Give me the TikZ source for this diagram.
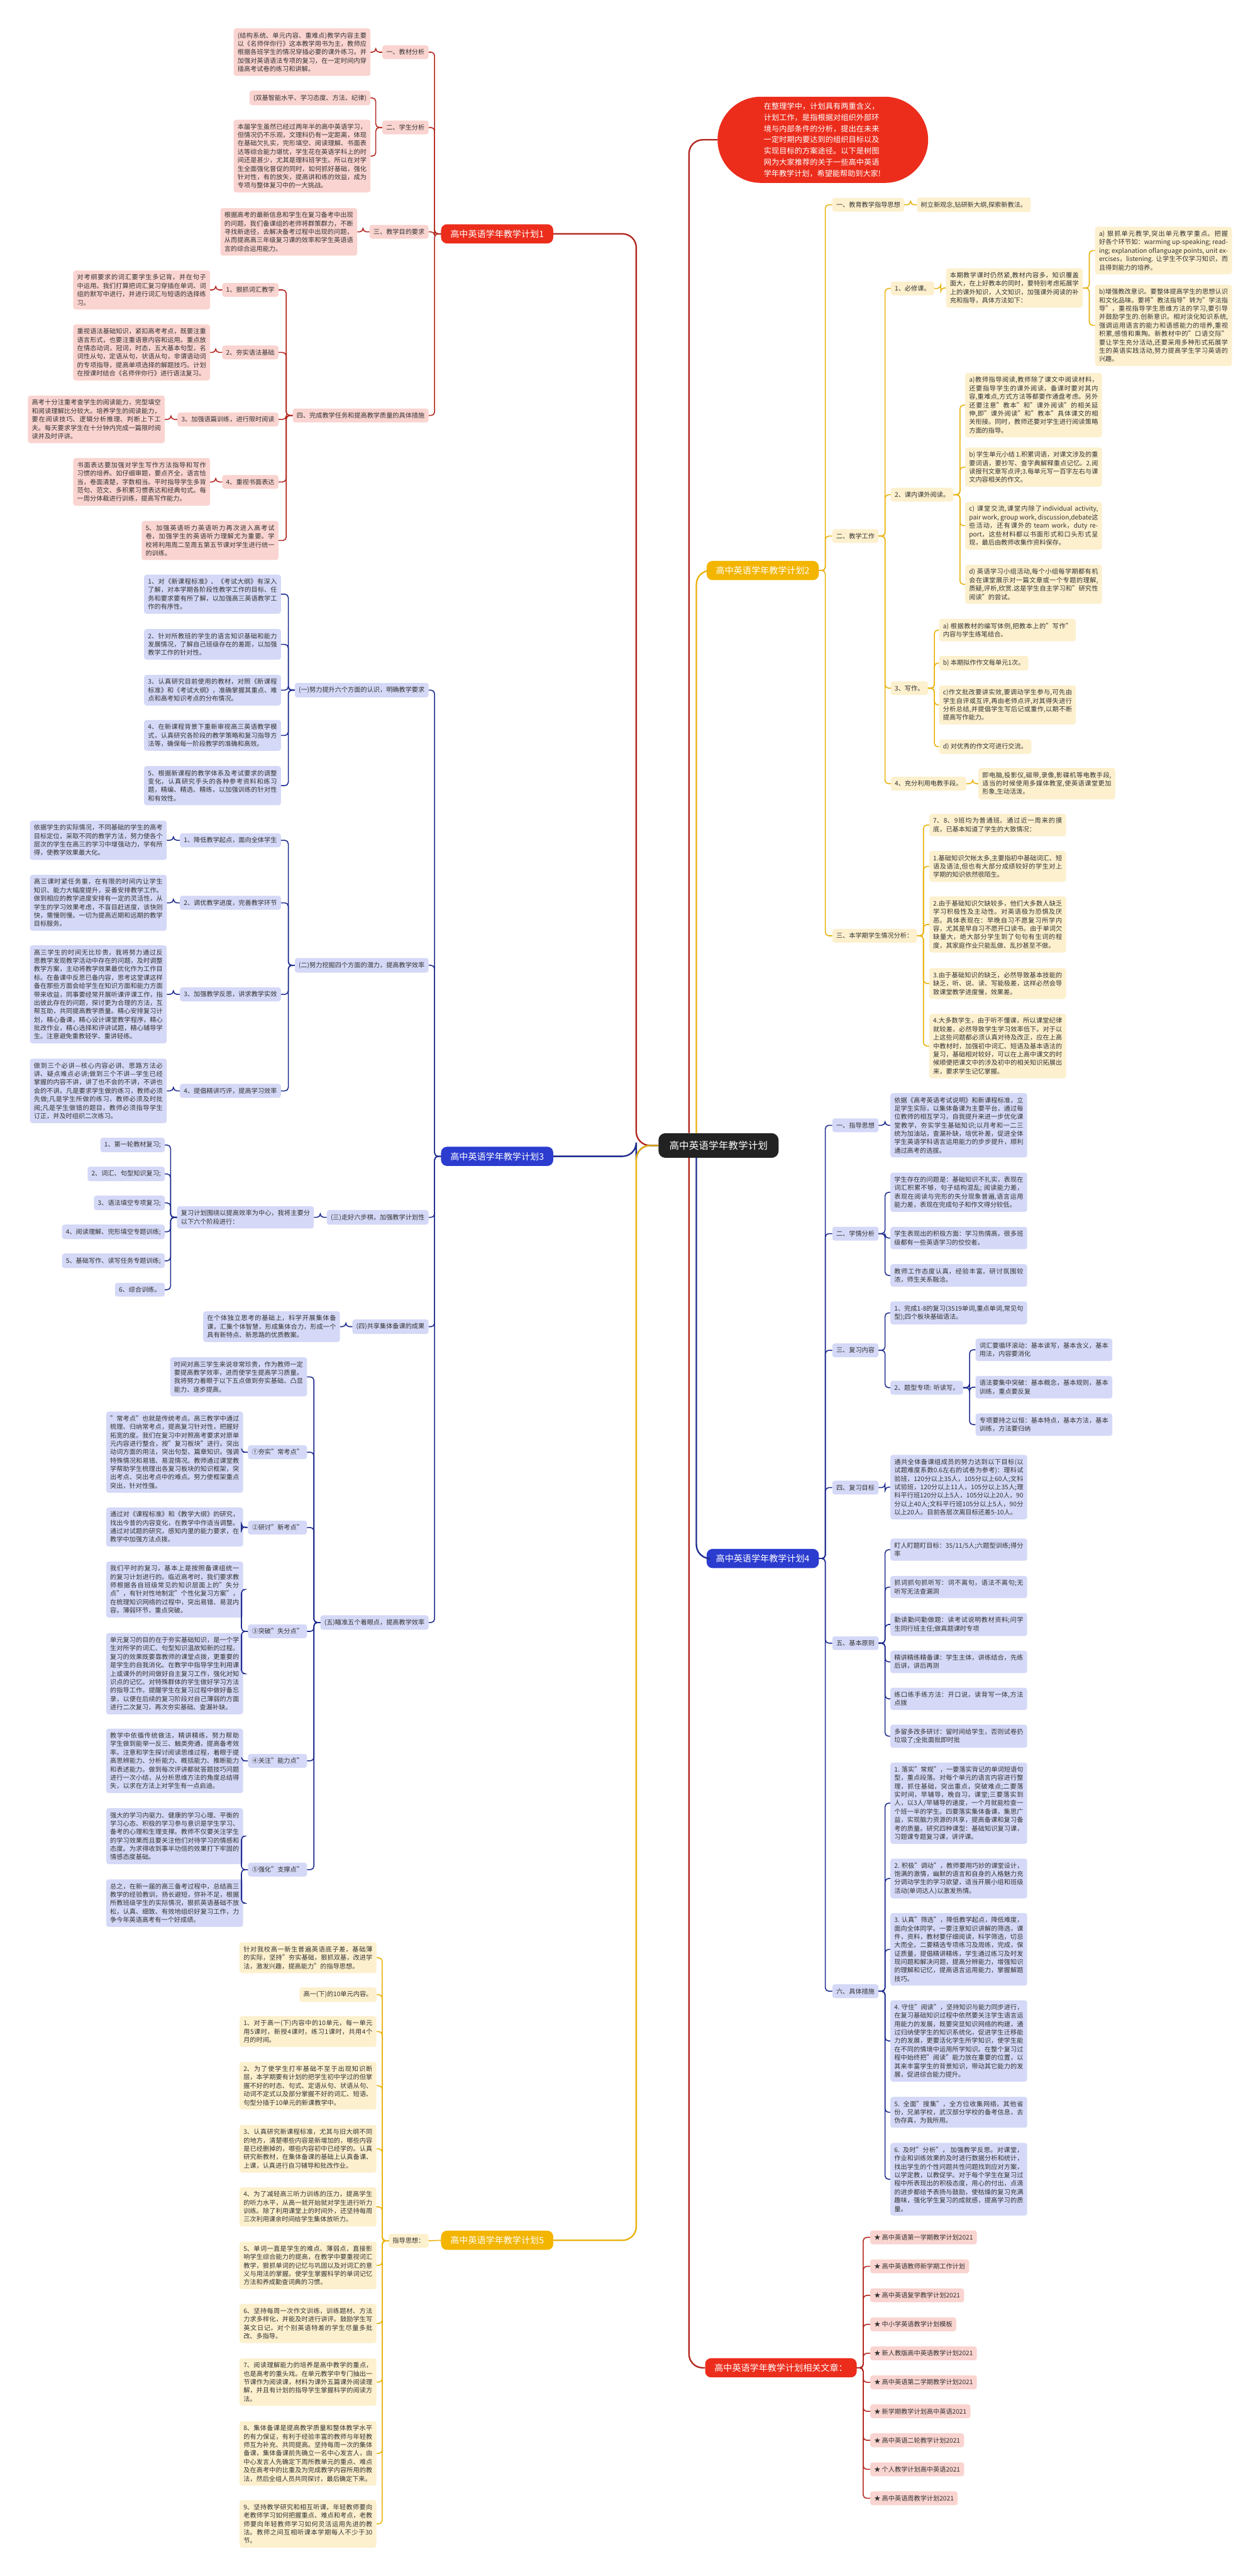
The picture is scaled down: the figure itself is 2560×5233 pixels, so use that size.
\documentclass[tikz,border=0pt]{standalone}
\usepackage{fontspec}
\setmainfont{Noto Sans CJK SC}
\XeTeXlinebreaklocale "zh"
\XeTeXlinebreakskip=0pt plus 1pt
\usetikzlibrary{positioning}
\definecolor{ink}{HTML}{333333}
\definecolor{rootfill}{HTML}{222222}
\definecolor{redmain}{HTML}{EC2D1C}
\definecolor{redfill}{HTML}{FAD4D0}
\definecolor{redline}{HTML}{B3261E}
\definecolor{bluemain}{HTML}{2B3CCF}
\definecolor{bluefill}{HTML}{D5D9F7}
\definecolor{blueline}{HTML}{1E2C8E}
\definecolor{goldmain}{HTML}{F3B500}
\definecolor{goldfill}{HTML}{FDF0CE}
\definecolor{goldline}{HTML}{E9B20C}
\tikzset{
  leaf/.style={rounded corners=5pt, inner xsep=8pt, inner ysep=8pt, text=ink},
  para/.style={text width=262pt, align=justify},
  redleaf/.style={leaf, fill=redfill},
  blueleaf/.style={leaf, fill=bluefill},
  goldleaf/.style={leaf, fill=goldfill},
  hub/.style={rounded corners=12pt, inner xsep=19pt, minimum height=39pt, text=white,
    font=\fontsize{18}{22}\selectfont},
  link/.style={line width=2pt, rounded corners=7pt},
  redlink/.style={link, draw=redline},
  bluelink/.style={link, draw=blueline},
  goldlink/.style={link, draw=goldline},
  trunk/.style={line width=3pt, rounded corners=28pt}
}
\begin{document}
\begin{tikzpicture}[x=1pt, y=-1pt, font=\fontsize{13}{17.1}\selectfont]
  \useasboundingbox (0,0) rectangle (2560,5233);
  \fill[white] (0,0) rectangle (2560,5233);

  % Centre and intro
  \node[fill=rootfill, text=white, rounded corners=14pt, inner xsep=22pt, minimum height=50pt,
    font=\fontsize{20}{24}\selectfont] (root) at (1460,2327) {高中英语学年教学计划};
  \node[fill=redmain, text=white, rounded corners=88pt, inner xsep=94pt, inner ysep=12pt,
    text width=240pt, font=\fontsize{15.5}{22.7}\selectfont] (blob) at (1672,284)
    {在整理学中，计划具有两重含义，计划工作，是指根据对组织外部环境与内部条件的分析，提出在未来一定时期内要达到的组织目标以及实现目标的方案途径。以下是树图网为大家推荐的关于一些高中英语学年教学计划，希望能帮助到大家!};

  % Left top: plan 1 (red)
  \node[hub, fill=redmain, anchor=west] (p1) at (896,475) {高中英语学年教学计划1};
  \node[redleaf, anchor=east] (r1) at (871,106) {一、教材分析};
  \node[redleaf, anchor=east] (r2) at (871,259) {二、学生分析};
  \node[redleaf, anchor=east] (r3) at (871,471) {三、教学目的要求};
  \node[redleaf, anchor=east] (r4) at (871,844) {四、完成教学任务和提高教学质量的具体措施};
  \node[redleaf, para, anchor=east] (r1a) at (753,106) {(结构系统、单元内容、重难点)教学内容主要以《名师伴你行》这本教学用书为主，教师应根据各班学生的情况穿插必要的课外练习。并加强对英语语法专项的复习，在一定时间内穿插高考试卷的练习和讲解。};
  \node[redleaf, anchor=east] (r2a) at (753,199) {(双基智能水平、学习态度、方法、纪律)};
  \node[redleaf, para, anchor=east] (r2b) at (753,317) {本届学生虽然已经过两年半的高中英语学习，但情况仍不乐观，文理科仍有一定距离，体现在基础欠扎实，完形填空、阅读理解、书面表达等综合能力堪忧，学生花在英语学科上的时间还是甚少，尤其是理科班学生。所以在对学生全面强化督促的同时，如何抓好基础，强化针对性，有的放矢，提高讲和练的效益，成为专项与整体复习中的一大挑战。};
  \node[redleaf, para, anchor=east] (r3a) at (726,471) {根据高考的最新信息和学生在复习备考中出现的问题，我们备课组的老师将群策群力，不断寻找新途径，去解决备考过程中出现的问题，从而提高高三年级复习课的效率和学生英语语言的综合运用能力。};
  \node[redleaf, anchor=east] (r4a) at (566,589) {1、狠抓词汇教学};
  \node[redleaf, anchor=east] (r4b) at (566,716) {2、夯实语法基础};
  \node[redleaf, anchor=east] (r4c) at (566,852) {3、加强语篇训练，进行限时阅读};
  \node[redleaf, anchor=east] (r4d) at (566,979) {4、重视书面表达};
  \node[redleaf, para, anchor=east] (r4e) at (566,1098) {5、加强英语听力英语听力再次进入高考试卷，加强学生的英语听力理解尤为重要。学校将利用周二至周五第五节课对学生进行统一的训练。};
  \node[redleaf, para, anchor=east] (r4a1) at (427,589) {对考纲要求的词汇要学生多记背，并在句子中运用。我们打算把词汇复习穿插在单词、词组的默写中进行，并进行词汇与短语的选择练习。};
  \node[redleaf, para, anchor=east] (r4b1) at (427,716) {重视语法基础知识，紧扣高考考点，既要注重语言形式，也要注重语意内容和运用。重点放在情态动词，冠词，时态，五大基本句型，名词性从句，定语从句，状语从句，非谓语动词的专项指导，提高单项选择的解题技巧。计划在授课时结合《名师伴你行》进行语法复习。};
  \node[redleaf, para, anchor=east] (r4c1) at (335,852) {高考十分注重考查学生的阅读能力，完型填空和阅读理解比分较大。培养学生的阅读能力，要在阅读技巧、逻辑分析推理、判断上下工夫。每天要求学生在十分钟内完成一篇限时阅读并及时评讲。};
  \node[redleaf, para, anchor=east] (r4d1) at (427,979) {书面表达要加强对学生写作方法指导和写作习惯的培养。如仔细审题，要点齐全，语言恰当，卷面清楚，字数相当。平时指导学生多背范句、范文、多积累习惯表达和经典句式。每一周分体裁进行训练，提高写作能力。};
  \foreach \p/\c in {p1/r1,p1/r2,p1/r3,p1/r4,r1/r1a,r2/r2a,r2/r2b,r3/r3a,r4/r4a,r4/r4b,r4/r4c,r4/r4d,r4/r4e,r4a/r4a1,r4b/r4b1,r4c/r4c1,r4d/r4d1}
    \draw[redlink] (\p.west) -- ++(-13,0) |- (\c.east);

  % Left middle: plan 3 (blue)
  \node[hub, fill=bluemain, anchor=west] (p3) at (896,2349) {高中英语学年教学计划3};
  \node[blueleaf, anchor=east] (b1) at (871,1402) {(一)努力提升六个方面的认识，明确教学要求};
  \node[blueleaf, anchor=east] (b2) at (871,1961) {(二)努力挖掘四个方面的潜力，提高教学效率};
  \node[blueleaf, anchor=east] (b3) at (871,2473) {(三)走好六步棋，加强教学计划性};
  \node[blueleaf, anchor=east] (b4) at (871,2695) {(四)共享集体备课的成果};
  \node[blueleaf, anchor=east] (b5) at (871,3296) {(五)瞄准五个着眼点，提高教学效率};
  \foreach \k/\ypos/\body in {
    1/1207/{1、对《新课程标准》、《考试大纲》有深入了解，对本学期各阶段性教学工作的目标、任务和要求要有所了解，以加强高三英语教学工作的有序性。},
    2/1309/{2、针对所教班的学生的语言知识基础和能力发展情况，了解自己班级存在的差距，以加强教学工作的针对性。},
    3/1402/{3、认真研究目前使用的教材，对照《新课程标准》和《考试大纲》，准确掌握其重点、难点和高考知识考点的分布情况。},
    4/1494/{4、在新课程背景下重新审视高三英语教学模式，认真研究各阶段的教学策略和复习指导方法等，确保每一阶段教学的准确和高效。},
    5/1596/{5、根据新课程的教学体系及考试要求的调整变化，认真研究手头的各种参考资料和练习题，精编、精选、精练，以加强训练的针对性和有效性。}}
    \node[blueleaf, para, anchor=east] (b1\k) at (571,\ypos) {\body};
  \node[blueleaf, anchor=east] (b2a) at (571,1707) {1、降低教学起点，面向全体学生};
  \node[blueleaf, anchor=east] (b2b) at (571,1834) {2、调优教学进度，完善教学环节};
  \node[blueleaf, anchor=east] (b2c) at (571,2020) {3、加强教学反思，讲求教学实效};
  \node[blueleaf, anchor=east] (b2d) at (571,2216) {4、提倡精讲巧评，提高学习效率};
  \node[blueleaf, para, anchor=east] (b2a1) at (339,1707) {依据学生的实际情况，不同基础的学生的高考目标定位，采取不同的教学方法，努力使各个层次的学生在高三的学习中增强动力，学有所得，使教学效果最大化。};
  \node[blueleaf, para, anchor=east] (b2b1) at (339,1834) {高三课时紧任务重，在有限的时间内让学生知识、能力大幅度提升，妥善安排教学工作。做到相应的教学进度安排有一定的灵活性，从学生的学习效果考虑，不盲目赶进度，该快则快，需慢则慢。一切为提高近期和远期的教学目标服务。};
  \node[blueleaf, para, anchor=east] (b2c1) at (339,2020) {高三学生的时间无比珍贵，我将努力通过反思教学发现教学活动中存在的问题，及时调整教学方案，主动将教学效果最优化作为工作目标。在备课中反思已备内容，思考这堂课这样备在那些方面会给学生在知识方面和能力方面带来收益，同事要经常开展听课评课工作，指出彼此存在的问题，探讨更为合理的方法，互帮互助，共同提高教学质量。精心安排复习计划，精心备课，精心设计课堂教学程序，精心批改作业，精心选择和评讲试题，精心辅导学生。注意避免重教轻学、重讲轻练。};
  \node[blueleaf, para, anchor=east] (b2d1) at (339,2216) {做到三个必讲—核心内容必讲、思路方法必讲、疑点难点必讲;做到三个不讲—学生已经掌握的内容不讲，讲了也不会的不讲，不讲也会的不讲。凡是要求学生做的练习，教师必须先做;凡是学生所做的练习，教师必须及时批阅;凡是学生做错的题目，教师必须指导学生订正，并及时组织二次练习。};
  \node[blueleaf, para, anchor=east] (b3a) at (638,2473) {复习计划围绕以提高效率为中心，我将主要分以下六个阶段进行：};
  \foreach \k/\body in {1/{1、第一轮教材复习;},2/{2、词汇、句型知识复习;},3/{3、语法填空专项复习;},
    4/{4、阅读理解、完形填空专题训练;},5/{5、基础写作、读写任务专题训练;},6/{6、综合训练。}}
    \node[blueleaf, anchor=east] (b3a\k) at (335,{2326+58.8*(\k-1)}) {\body};
  \node[blueleaf, para, anchor=east] (b4a) at (691,2695) {在个体独立思考的基础上，科学开展集体备课，汇集个体智慧，形成集体合力，形成一个具有新特点、新思路的优质教案。};
  \node[blueleaf, para, anchor=east] (b5a) at (624,2797) {时间对高三学生来说非常珍贵，作为教师一定要提高教学效率，进而使学生提高学习质量。我将努力着眼于以下五点做到夯实基础、凸显能力、逐步提高。};
  \node[blueleaf, anchor=east] (b5b) at (624,2950) {①夯实"常考点"};
  \node[blueleaf, anchor=east] (b5c) at (624,3103) {②研讨"新考点"};
  \node[blueleaf, anchor=east] (b5d) at (624,3314) {③突破"失分点"};
  \node[blueleaf, anchor=east] (b5e) at (624,3577) {④关注"能力点"};
  \node[blueleaf, anchor=east] (b5f) at (624,3798) {⑤强化"支撑点"};
  \node[blueleaf, para, anchor=east] (b5b1) at (494,2950) {"常考点"也就是传统考点。高三教学中通过梳理、归纳常考点，提高复习针对性，把握好拓宽的度。我们在复习中对照高考要求对原单元内容进行整合，按"复习板块"进行。突出动词方面的用法，突出句型、篇章知识。强调特殊情况和易错、易混情况。教师通过课堂教学帮助学生梳理出各复习板块的知识框架，突出考点、突出考点中的难点。努力使框架重点突出，针对性强。};
  \node[blueleaf, para, anchor=east] (b5c1) at (494,3102) {通过对《课程标准》和《教学大纲》的研究，找出今昔的内容变化，在教学中作适当调整。通过对试题的研究，感知内里的能力要求，在教学中加强方法点拨。};
  \node[blueleaf, para, anchor=east] (b5d1) at (494,3229) {我们平时的复习，基本上是按照备课组统一的复习计划进行的。临近高考时，我们要求教师根据各自班级常见的知识层面上的"失分点"，有针对性地制定"个性化复习方案"，在梳理知识网络的过程中，突出易错、易混内容。薄弱环节，重点突破。};
  \node[blueleaf, para, anchor=east] (b5d2) at (494,3400) {单元复习的目的在于夯实基础知识，是一个学生对所学的词汇、句型知识温故知新的过程。复习的效果既要靠教师的课堂点拨，更重要的是学生的自我消化。在教学中指导学生利用课上或课外的时间做好自主复习工作，强化对知识点的记忆。对特殊群体的学生做好学习方法的指导工作。提醒学生在复习过程中做好备忘录，以便在后续的复习阶段对自己薄弱的方面进行二次复习，再次夯实基础、查漏补缺。};
  \node[blueleaf, para, anchor=east] (b5e1) at (494,3577) {教学中依循传统做法，精讲精练，努力帮助学生做到能举一反三、触类旁通，提高备考效率。注意和学生探讨阅读思维过程，着眼于提高思辨能力、分析能力、概括能力、推断能力和表述能力。做到每次评讲都就答题技巧问题进行一次小结，从分析思维方法的角度总结得失，以求在方法上对学生有一点启迪。};
  \node[blueleaf, para, anchor=east] (b5f1) at (494,3730) {强大的学习内驱力、健康的学习心理、平衡的学习心态、积极的学习参与意识是学生学习、备考的心理和生理支撑。教师不仅要关注学生的学习效果而且要关注他们对待学习的情感和态度。为求得收到事半功倍的效果打下牢固的情感态度基础。};
  \node[blueleaf, para, anchor=east] (b5f2) at (494,3866) {总之，在新一届的高三备考过程中，总结高三教学的经验教训，扬长避短，弥补不足，根据所教班级学生的实际情况，狠抓英语基础不放松，认真、细致、有效地组织好复习工作，力争今年英语高考有一个好成绩。};
  \foreach \p/\c in {p3/b1,p3/b2,p3/b3,p3/b4,p3/b5,b1/b11,b1/b12,b1/b13,b1/b14,b1/b15,
    b2/b2a,b2/b2b,b2/b2c,b2/b2d,b2a/b2a1,b2b/b2b1,b2c/b2c1,b2d/b2d1,b3/b3a,
    b3a/b3a1,b3a/b3a2,b3a/b3a3,b3a/b3a4,b3a/b3a5,b3a/b3a6,b4/b4a,
    b5/b5a,b5/b5b,b5/b5c,b5/b5d,b5/b5e,b5/b5f,b5b/b5b1,b5c/b5c1,b5d/b5d1,b5d/b5d2,b5e/b5e1,b5f/b5f1,b5f/b5f2}
    \draw[bluelink] (\p.west) -- ++(-13,0) |- (\c.east);

  % Left bottom: plan 5 (gold)
  \node[hub, fill=goldmain, anchor=west] (p5) at (896,4551) {高中英语学年教学计划5};
  \node[goldleaf, anchor=east] (y0) at (871,4552) {指导思想：};
  \node[goldleaf, anchor=east] (y2) at (765,4052) {高一(下)的10单元内容。};
  \foreach \k/\ypos/\body in {
    1/3977/{针对我校高一新生普遍英语底子差，基础薄的实际，坚持"夯实基础，狠抓双基，改进学法，激发兴趣，提高能力"的指导思想。},
    3/4127/{1、对于高一(下)内容中的10单元，每一单元用5课时，新授4课时，练习1课时，共用4个月的时间。},
    4/4237/{2、为了使学生打牢基础不至于出现知识断层，本学期要有计划的把学生初中学过的但掌握不好的时态、句式、定语从句、状语从句、动词不定式以及部分掌握不好的词汇、短语、句型分插于10单元的新课教学中。},
    5/4365/{3、认真研究新课程标准，尤其与旧大纲不同的地方，清楚哪些内容是新增加的，哪些内容是已经删掉的，哪些内容初中已经学的。认真研究新教材，在集体备课的基础上认真备课、上课，认真进行自习辅导和批改作业。},
    6/4483/{4、为了减轻高三听力训练的压力，提高学生的听力水平，从高一就开始就对学生进行听力训练。除了利用课堂上的时间外，还坚持每周三次利用课余时间给学生集体放听力。},
    7/4602/{5、单词一直是学生的难点、薄弱点，直接影响学生综合能力的提高，在教学中要重视词汇教学，狠抓单词的记忆与巩固以及对词汇的意义与用法的掌握。使学生掌握科学的单词记忆方法和养成勤查词典的习惯。},
    8/4720/{6、坚持每周一次作文训练，训练题材、方法力求多样化，并能及时进行讲评。鼓励学生写英文日记，对个别英语特差的学生尽量多批改、多指导。},
    9/4839/{7、阅读理解能力的培养是高中教学的重点，也是高考的重头戏。在单元教学中专门抽出一节课作为阅读课，材料为课外五篇课外阅读理解，并且有计划的指导学生掌握科学的阅读方法。},
    10/4984/{8、集体备课是提高教学质量和整体教学水平的有力保证，有利于经验丰富的教师与年轻教师互为补充、共同提高。坚持每周一次的集体备课，集体备课前先确立一名中心发言人，由中心发言人先确定下周所教单元的重点、难点及在高考中的比重及为完成教学内容所用的教法，然后全组人员共同探讨，最后确定下来。},
    11/5127/{9、坚持教学研究和相互听课，年轻教师要向老教师学习如何把握重点、难点和考点，老教师要向年轻教师学习如何灵活运用先进的教法。教师之间互相听课本学期每人不少于30节。}}
    \node[goldleaf, para, anchor=east] (y\k) at (765,\ypos) {\body};
  \draw[goldlink] (p5.west) -- (y0.east);
  \foreach \k in {1,...,11}
    \draw[goldlink] (y0.west) -- ++(-13,0) |- (y\k.east);

  % Right top: plan 2 (gold)
  \node[hub, fill=goldmain, anchor=east] (p2) at (1664,1159) {高中英语学年教学计划2};
  \node[goldleaf, anchor=west] (g1) at (1691,416) {一、教育教学指导思想};
  \node[goldleaf, anchor=west] (g2) at (1691,1089) {二、教学工作};
  \node[goldleaf, anchor=west] (g3) at (1691,1901) {三、本学期学生情况分析：};
  \node[goldleaf, anchor=west] (g1a) at (1863,416) {树立新观念,钻研新大纲,探索新教法。};
  \node[goldleaf, anchor=west] (g2a) at (1810,586) {1、必修课。};
  \node[goldleaf, anchor=west] (g2b) at (1810,1005) {2、课内课外阅读。};
  \node[goldleaf, anchor=west] (g2c) at (1810,1398) {3、写作。};
  \node[goldleaf, anchor=west] (g2d) at (1810,1592) {4、充分利用电教手段。};
  \node[goldleaf, para, anchor=west] (g2a1) at (1922,585) {本期教学课时仍然紧,教材内容多，知识覆盖面大，在上好教本的同时，要特别考虑拓展学上的课外知识，人文知识，加强课外阅读的补充和指导，具体方法如下：};
  \node[goldleaf, para, anchor=west] (g2a2) at (2225,509) {a) 狠抓单元教学,突出单元教学重点。把握好各个环节如：warming up-speaking; reading; explanation oflanguage points, unit exercises，listening. 让学生不仅学习知识，而且得到能力的培养。};
  \node[goldleaf, para, anchor=west] (g2a3) at (2225,661) {b)增强教改意识。要整体提高学生的思想认识和文化品味。要将"教法指导"转为"学法指导"，重视指导学生思维方法的学习,要引导并鼓励学生的.创新意识。相对淡化知识系统,强调运用语言的能力和语感能力的培养,重视积累,感悟和熏陶。新教材中的"口语交际"要让学生充分活动,还要采用多种形式拓展学生的英语实践活动,努力提高学生学习英语的兴趣。};
  \node[goldleaf, para, anchor=west] (g2b1) at (1961,823) {a)教师指导阅读,教师除了课文中阅读材料，还要指导学生的课外阅读，备课时要对其内容,重难点,方式方法等都要作通盘考虑。另外还要注意"教本"和"课外阅读"的相关延伸,即"课外阅读"和"教本"具体课文的相关衔接。同时，教师还要对学生进行阅读策略方面的指导。};
  \node[goldleaf, para, anchor=west] (g2b2) at (1961,949) {b) 学生单元小结 1.积累词语，对课文涉及的重要词语，要抄写、查字典解释重点记忆。2.阅读报刊文章写点评;3.每单元写一百字左右与课文内容相关的作文。};
  \node[goldleaf, para, anchor=west] (g2b3) at (1961,1068) {c) 课堂交流,课堂内除了individual activity, pair work, group work, discussion,debate这些活动，还有课外的 team work，duty report，这些材料都以书面形式和口头形式呈现，最后由教师收集作资料保存。};
  \node[goldleaf, para, anchor=west] (g2b4) at (1961,1187) {d) 英语学习小组活动,每个小组每学期都有机会在课堂展示对一篇文章或一个专题的理解,质疑,评析,欣赏.这是学生自主学习和"研究性阅读"的尝试。};
  \node[goldleaf, para, anchor=west] (g2c1) at (1908,1280) {a) 根据教材的编写体例,把教本上的"写作"内容与学生练笔结合。};
  \node[goldleaf, anchor=west] (g2c2) at (1908,1347) {b) 本期拟作作文每单元1次。};
  \node[goldleaf, para, anchor=west] (g2c3) at (1908,1432) {c)作文批改要讲实效,要调动学生参与,可先由学生自评或互评,再由老师点评,对其得失进行分析总结,并提倡学生写后记或重作,以期不断提高写作能力。};
  \node[goldleaf, anchor=west] (g2c4) at (1908,1517) {d) 对优秀的作文可进行交流。};
  \node[goldleaf, para, anchor=west] (g2d1) at (1988,1592) {即电脑,投影仪,磁带,录像,影碟机等电教手段,适当的时候使用多媒体教室,使英语课堂更加形象,生动活泼。};
  \node[goldleaf, para, anchor=west] (g31) at (1888,1676) {7、8、9班均为普通班。通过近一周来的摸底，已基本知道了学生的大致情况：};
  \node[goldleaf, para, anchor=west] (g32) at (1888,1760) {1.基础知识欠帐太多,主要指初中基础词汇、短语及语法,但也有大部分成绩较好的学生对上学期的知识依然很陌生。};
  \node[goldleaf, para, anchor=west] (g33) at (1888,1878) {2.由于基础知识欠缺较多，他们大多数人缺乏学习积极性及主动性。对英语极为恐惧及厌恶。具体表现在：早晚自习不愿复习所学内容，尤其是早自习不愿开口读书。由于单词欠缺量大，绝大部分学生到了句句有生词的程度，其家庭作业只能乱做、乱抄甚至不做。};
  \node[goldleaf, para, anchor=west] (g34) at (1888,1998) {3.由于基础知识的缺乏，必然导致基本技能的缺乏，听、说、读、写能极差，这样必然会导致课堂教学进度慢，效果差。};
  \node[goldleaf, para, anchor=west] (g35) at (1888,2125) {4.大多数学生，由于听不懂课，所以课堂纪律就较差，必然导致学生学习效率低下。对于以上这些问题都必须认真对待及改正，应在上高中教材时，加强初中词汇、短语及基本语法的复习，基础相对较好，可以在上高中课文的时候顺便把课文中的涉及初中的相关知识拓展出来，要求学生记忆掌握。};
  \foreach \p/\c in {p2/g1,p2/g2,p2/g3,g1/g1a,g2/g2a,g2/g2b,g2/g2c,g2/g2d,g2a/g2a1,g2a1/g2a2,g2a1/g2a3,
    g2b/g2b1,g2b/g2b2,g2b/g2b3,g2b/g2b4,g2c/g2c1,g2c/g2c2,g2c/g2c3,g2c/g2c4,g2d/g2d1,
    g3/g31,g3/g32,g3/g33,g3/g34,g3/g35}
    \draw[goldlink] (\p.east) -- ++(13,0) |- (\c.west);

  % Right middle: plan 4 (blue)
  \node[hub, fill=bluemain, anchor=east] (p4) at (1664,3166) {高中英语学年教学计划4};
  \node[blueleaf, anchor=west] (u1) at (1691,2286) {一、指导思想};
  \node[blueleaf, anchor=west] (u2) at (1691,2506) {二、学情分析};
  \node[blueleaf, anchor=west] (u3) at (1691,2743) {三、复习内容};
  \node[blueleaf, anchor=west] (u4) at (1691,3022) {四、复习目标};
  \node[blueleaf, anchor=west] (u5) at (1691,3338) {五、基本原则};
  \node[blueleaf, anchor=west] (u6) at (1691,4045) {六、具体措施};
  \node[blueleaf, para, anchor=west] (u1a) at (1809,2286) {依据《高考英语考试说明》和新课程标准，立足学生实际，以集体备课为主要平台，通过每位教师的相互学习，自我提升来进一步优化课堂教学，夯实学生基础知识;以月考和一二三统为加油站，查漏补缺，培优补差，促进全体学生英语学科语言运用能力的步步提升，顺利通过高考的选拔。};
  \node[blueleaf, para, anchor=west] (u2a) at (1809,2422) {学生存在的问题是：基础知识不扎实，表现在词汇积累不够，句子结构混乱; 阅读能力差，表现在阅读与完形的失分现象普遍,语言运用能力差，表现在完成句子和作文得分较低。};
  \node[blueleaf, para, anchor=west] (u2b) at (1809,2515) {学生表现出的积极方面：学习热情高，很多班级都有一些英语学习的佼佼者。};
  \node[blueleaf, para, anchor=west] (u2c) at (1809,2591) {教师工作态度认真，经验丰富，研讨氛围较浓，师生关系融洽。};
  \node[blueleaf, para, anchor=west] (u3a) at (1809,2667) {1、完成1-8的复习(3519单词,重点单词,常见句型);四个板块基础语法。};
  \node[blueleaf, anchor=west] (u3b) at (1809,2819) {2、题型专项: 听读写。};
  \node[blueleaf, para, anchor=west] (u3b1) at (1982,2742) {词汇要循环滚动：基本读写，基本含义，基本用法，内容要消化};
  \node[blueleaf, para, anchor=west] (u3b2) at (1982,2818) {语法要集中突破：基本概念，基本规则，基本训练，重点要反复};
  \node[blueleaf, para, anchor=west] (u3b3) at (1982,2894) {专项要持之以恒：基本特点，基本方法，基本训练，方法要归纳};
  \node[blueleaf, para, anchor=west] (u4a) at (1809,3021) {通共全体备课组成员的努力达到以下目标(以试题难度系数0.6左右的试卷为参考)：理科试验班，120分以上35人，105分以上60人;文科试验班，120分以上11人，105分以上35人;理科平行班120分以上5人，105分以上20人，90分以上40人;文科平行班105分以上5人，90分以上20人。目前各层次离目标还差5-10人。};
  \foreach \k/\ypos/\body in {
    1/3148/{盯人盯题盯目标：35/11/5人;六题型训练;得分率},
    2/3224/{抓词抓句抓听写：词不离句，语法不离句;无听写无法查漏洞},
    3/3300/{勤读勤问勤做题：读考试说明教材资料;问学生同行班主任;做真题课时专项},
    4/3376/{精讲精练精备课：学生主体，讲练结合，先练后讲，讲后再测},
    5/3451/{练口练手练方法：开口说，读背写一体,方法点拨},
    6/3527/{多留多改多研讨：留时间给学生，否则试卷扔垃圾了;全批面批即时批}}
    \node[blueleaf, para, anchor=west] (u5\k) at (1809,\ypos) {\body};
  \foreach \k/\ypos/\body in {
    1/3663/{1. 落实"常规"，一要落实背记的单词短语句型，重点段落。对每个单元的语言内容进行整理，抓住基础，突出重点，突破难点;二要落实时间，早辅导，晚自习，课堂;三要落实到人，以3人/早辅导的速度，一个月就能检查一个班一半的学生。四要落实集体备课，集思广益，实现脑力资源的共享，提高备课和复习备考的质量。研究四种课型：基础知识复习课，习题课专题复习课，讲评课。},
    2/3816/{2. 积极"调动"，教师要用巧妙的课堂设计，饱满的激情，幽默的语言和自身的人格魅力充分调动学生的学习欲望，适当开展小组和班级活动(单词达人)以激发热情。},
    3/3960/{3. 认真"筛选"，降低教学起点，降低难度，面向全体同学。一要注意知识讲解的筛选，课件，资料，教材要仔细阅读，科学筛选，切忌大而全。二要精选专项练习及周练，完成，保证质量，提倡精讲精练，学生通过练习及时发现问题和解决问题，提高分辨能力，增强知识的理解和记忆，提高语言运用能力，掌握解题技巧。},
    4/4146/{4. 守住"阅读"，坚持知识与能力同步进行，在复习基础知识过程中依然要关注学生语言运用能力的发展，既要突显知识网络的构建，通过归纳使学生的知识系统化，促进学生迁移能力的发展，更要活化学生所学知识，使学生能在不同的情境中运用所学知识。在整个复习过程中始终把"阅读"能力放在重要的位置，以其来丰富学生的背景知识，带动其它能力的发展，促进综合能力提升。},
    5/4291/{5. 全面"搜集"，全方位收集网络，其他省份，兄弟学校，武汉部分学校的备考信息，去伪存真，为我所用。},
    6/4427/{6. 及时"分析"， 加强教学反思。对课堂，作业和训练效果的及时进行数据分析和统计，找出学生的个性问题共性问题找到应对方案，以学定教，以教促学。对于每个学生在复习过程中所表现出的积极态度，用心的付出，点滴的进步都给予表扬与鼓励，使枯燥的复习充满趣味，强化学生复习的成就感，提高学习的质量。}}
    \node[blueleaf, para, anchor=west] (u6\k) at (1809,\ypos) {\body};
  \foreach \p/\c in {p4/u1,p4/u2,p4/u3,p4/u4,p4/u5,p4/u6,u1/u1a,u2/u2a,u2/u2b,u2/u2c,u3/u3a,u3/u3b,
    u3b/u3b1,u3b/u3b2,u3b/u3b3,u4/u4a,u5/u51,u5/u52,u5/u53,u5/u54,u5/u55,u5/u56,
    u6/u61,u6/u62,u6/u63,u6/u64,u6/u65,u6/u66}
    \draw[bluelink] (\p.east) -- ++(13,0) |- (\c.west);

  % Right bottom: related articles (red)
  \node[hub, fill=redmain, anchor=east] (rel) at (1741,4810) {高中英语学年教学计划相关文章：};
  \foreach \k/\body in {1/高中英语第一学期教学计划2021,2/高中英语教师新学期工作计划,3/高中英语复学教学计划2021,
    4/中小学英语教学计划模板,5/新人教版高中英语教学计划2021,6/高中英语第二学期教学计划2021,
    7/新学期教学计划高中英语2021,8/高中英语二轮教学计划2021,9/个人教学计划高中英语2021,10/高中英语周教学计划2021}
  {
    \node[redleaf, anchor=west] (a\k) at (1768,{4545+58.9*(\k-1)}) {★ \body};
    \draw[redlink] (rel.east) -- ++(13,0) |- (a\k.west);
  }

  % Centre to main branches
  \draw[redlink, trunk] (root.west) -- ++(-45,0) |- (p1.east);
  \draw[bluelink, trunk] (root.west) -- ++(-45,0) |- (p3.east);
  \draw[goldlink, trunk] (root.west) -- ++(-45,0) |- (p5.east);
  \draw[redlink, trunk] ([xshift=-60pt]root.north) |- (blob.west);
  \draw[goldlink, trunk] ([xshift=-45pt]root.north) |- (p2.west);
  \draw[bluelink, trunk] ([xshift=-45pt]root.south) |- (p4.west);
  \draw[redlink, trunk] ([xshift=-60pt]root.south) |- (rel.west);
\end{tikzpicture}
\end{document}
